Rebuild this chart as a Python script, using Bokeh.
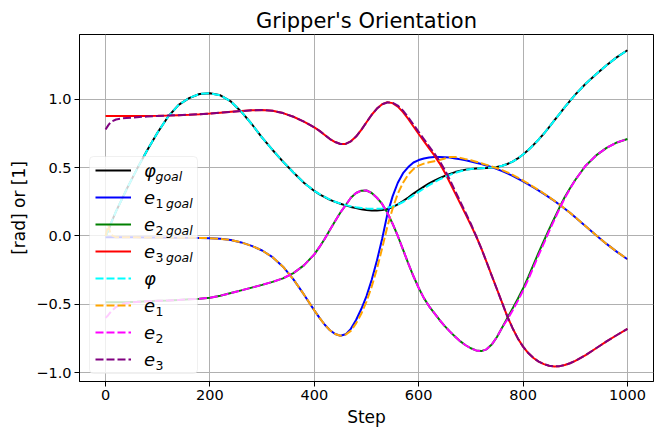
from bokeh.plotting import figure
from bokeh.models import (Range1d, FixedTicker, Legend, LegendItem, Label,
                          BoxAnnotation, CustomJSTickFormatter)
from bokeh.embed import file_html
from bokeh.resources import INLINE

# ---- data: sampled trajectory of the gripper orientation -------------------
steps = [0, 5, 10, 20, 30, 40, 60, 80, 100, 120, 140, 160, 180, 200, 220,
         240, 260, 280, 300, 320, 340, 360, 380,
         400, 410, 420, 430, 440, 450, 460, 470, 480, 490,
         500, 510, 520, 530, 540, 550, 560, 570, 580, 590,
         600, 610, 620, 630, 640, 650, 660, 670, 680, 690,
         700, 710, 720, 730, 740, 750, 760, 770, 780, 790,
         800, 810, 820, 830, 840, 850, 860, 870, 880, 890,
         900, 920, 940, 960, 980, 1000]

phi_goal = [0.0, 0.04, 0.09, 0.18, 0.26, 0.34, 0.49, 0.63, 0.76, 0.875, 0.96,
            1.01, 1.04, 1.045, 1.03, 0.985, 0.91, 0.82, 0.72, 0.63, 0.545,
            0.465, 0.39,
            0.33, 0.305, 0.285, 0.265, 0.25, 0.236, 0.224, 0.213, 0.204, 0.196,
            0.19, 0.186, 0.186, 0.19, 0.198, 0.212, 0.232, 0.256, 0.282, 0.31,
            0.337, 0.362, 0.385, 0.405, 0.423, 0.44, 0.455, 0.468, 0.478, 0.486,
            0.491, 0.494, 0.496, 0.498, 0.501, 0.506, 0.514, 0.527, 0.545, 0.568,
            0.597, 0.63, 0.667, 0.707, 0.75, 0.797, 0.846, 0.895, 0.943, 0.99,
            1.035, 1.115, 1.185, 1.25, 1.31, 1.36]

e1_goal = [-0.01, -0.01, -0.01, -0.01, -0.01, -0.01, -0.01, -0.011, -0.011,
           -0.012, -0.012, -0.013, -0.014, -0.016, -0.021, -0.03, -0.047,
           -0.072, -0.106, -0.155, -0.225, -0.318, -0.428,
           -0.545, -0.6, -0.65, -0.69, -0.718, -0.73, -0.72, -0.68, -0.615, -0.535,
           -0.44, -0.32, -0.18, -0.02, 0.16, 0.29, 0.39, 0.46, 0.505, 0.538,
           0.556, 0.568, 0.575, 0.578, 0.578, 0.577, 0.574, 0.568, 0.562, 0.554,
           0.546, 0.537, 0.527, 0.516, 0.504, 0.49, 0.475, 0.458, 0.44, 0.42,
           0.40, 0.378, 0.355, 0.332, 0.308, 0.283, 0.257, 0.229, 0.2, 0.17,
           0.138, 0.072, 0.006, -0.058, -0.116, -0.17]

e2_goal = [-0.485, -0.485, -0.485, -0.485, -0.485, -0.485, -0.482, -0.478,
           -0.475, -0.472, -0.468, -0.464, -0.46, -0.452, -0.437, -0.418,
           -0.398, -0.378, -0.358, -0.336, -0.31, -0.272, -0.215,
           -0.135, -0.08, -0.02, 0.045, 0.11, 0.172, 0.225, 0.28, 0.315, 0.332,
           0.333, 0.315, 0.28, 0.235, 0.17, 0.09, 0.0, -0.1, -0.2, -0.295,
           -0.38, -0.455, -0.515, -0.565, -0.615, -0.66, -0.7, -0.738, -0.772, -0.8,
           -0.822, -0.838, -0.843, -0.83, -0.795, -0.74, -0.67, -0.6, -0.53, -0.46,
           -0.385, -0.3, -0.21, -0.12, -0.035, 0.05, 0.13, 0.21, 0.285, 0.35,
           0.41, 0.515, 0.59, 0.645, 0.685, 0.71]

e3_goal = [0.878, 0.878, 0.878, 0.878, 0.878, 0.878, 0.878, 0.879, 0.88,
           0.882, 0.885, 0.888, 0.892, 0.897, 0.903, 0.909, 0.915, 0.92,
           0.922, 0.917, 0.9, 0.873, 0.838,
           0.795, 0.77, 0.74, 0.71, 0.688, 0.674, 0.674, 0.693, 0.728, 0.777,
           0.833, 0.888, 0.933, 0.965, 0.98, 0.973, 0.947, 0.907, 0.857, 0.802,
           0.747, 0.695, 0.642, 0.59, 0.532, 0.465, 0.39, 0.312, 0.235, 0.158,
           0.08, 0.0, -0.09, -0.19, -0.29, -0.39, -0.49, -0.59, -0.675, -0.75,
           -0.81, -0.857, -0.893, -0.92, -0.938, -0.95, -0.955, -0.953, -0.945, -0.932,
           -0.915, -0.872, -0.822, -0.772, -0.725, -0.68]

phi = [0.0, 0.04, 0.09, 0.18, 0.26, 0.34, 0.49, 0.63, 0.76, 0.875, 0.96,
       1.01, 1.04, 1.045, 1.03, 0.985, 0.91, 0.82, 0.72, 0.63, 0.545,
       0.465, 0.39,
       0.33, 0.306, 0.286, 0.267, 0.251, 0.237, 0.226, 0.217, 0.21, 0.205,
       0.202, 0.2, 0.2, 0.202, 0.207, 0.216, 0.23, 0.249, 0.272, 0.298,
       0.323, 0.348, 0.372, 0.394, 0.414, 0.432, 0.448, 0.462, 0.474, 0.484,
       0.49, 0.494, 0.496, 0.498, 0.501, 0.506, 0.514, 0.527, 0.545, 0.568,
       0.597, 0.63, 0.667, 0.707, 0.75, 0.797, 0.846, 0.895, 0.943, 0.99,
       1.035, 1.115, 1.185, 1.25, 1.31, 1.36]

e1 = [0.0, 0.08, 0.01, -0.01, -0.01, -0.01, -0.01, -0.011, -0.011,
      -0.012, -0.012, -0.013, -0.014, -0.016, -0.021, -0.03, -0.047,
      -0.072, -0.106, -0.155, -0.225, -0.318, -0.428,
      -0.545, -0.6, -0.65, -0.69, -0.718, -0.73, -0.722, -0.695, -0.64, -0.57,
      -0.48, -0.37, -0.24, -0.09, 0.07, 0.2, 0.31, 0.39, 0.45, 0.49,
      0.515, 0.53, 0.54, 0.548, 0.556, 0.568, 0.578, 0.578, 0.572, 0.563,
      0.554, 0.544, 0.533, 0.521, 0.509, 0.496, 0.482, 0.466, 0.448, 0.428,
      0.406, 0.383, 0.36, 0.336, 0.311, 0.285, 0.258, 0.23, 0.2, 0.17,
      0.138, 0.072, 0.006, -0.058, -0.116, -0.17]

e2 = [-0.60, -0.58, -0.555, -0.52, -0.50, -0.49, -0.483, -0.478,
      -0.475, -0.472, -0.468, -0.464, -0.46, -0.452, -0.437, -0.418,
      -0.398, -0.378, -0.358, -0.336, -0.31, -0.272, -0.215,
      -0.135, -0.08, -0.02, 0.045, 0.11, 0.172, 0.225, 0.28, 0.315, 0.332,
      0.333, 0.315, 0.28, 0.235, 0.17, 0.09, 0.0, -0.1, -0.2, -0.295,
      -0.38, -0.455, -0.515, -0.565, -0.615, -0.66, -0.7, -0.738, -0.772, -0.8,
      -0.822, -0.838, -0.843, -0.83, -0.795, -0.74, -0.67, -0.612, -0.545, -0.475,
      -0.40, -0.318, -0.228, -0.138, -0.052, 0.035, 0.118, 0.2, 0.278, 0.345,
      0.41, 0.515, 0.59, 0.645, 0.685, 0.71]

e3 = [0.78, 0.81, 0.835, 0.853, 0.86, 0.864, 0.87, 0.875, 0.879,
      0.882, 0.885, 0.888, 0.892, 0.897, 0.903, 0.909, 0.915, 0.92,
      0.922, 0.917, 0.9, 0.873, 0.838,
      0.795, 0.77, 0.74, 0.71, 0.688, 0.674, 0.674, 0.693, 0.728, 0.777,
      0.833, 0.888, 0.933, 0.965, 0.978, 0.976, 0.955, 0.918, 0.87, 0.816,
      0.762, 0.71, 0.657, 0.605, 0.55, 0.485, 0.41, 0.33, 0.25, 0.17,
      0.09, 0.0, -0.09, -0.19, -0.29, -0.39, -0.49, -0.59, -0.675, -0.75,
      -0.81, -0.857, -0.893, -0.92, -0.938, -0.95, -0.955, -0.953, -0.945, -0.932,
      -0.915, -0.872, -0.822, -0.772, -0.725, -0.68]

x_ticks = [0, 200, 400, 600, 800, 1000]
y_ticks = [-1.0, -0.5, 0.0, 0.5, 1.0]

FONT = "DejaVu Sans"

p = figure(frame_width=574, frame_height=347,
           min_border_left=79, min_border_right=7,
           min_border_top=34, min_border_bottom=51,
           x_range=Range1d(-50, 1050), y_range=Range1d(-1.0655, 1.4755),
           output_backend="svg", toolbar_location=None,
           title="Gripper's Orientation")

p.title.text_font = FONT
p.title.text_font_size = "21px"
p.title.text_font_style = "normal"
p.title.text_color = "black"
p.title.align = "center"
p.title.standoff = 4

p.background_fill_color = "white"
p.border_fill_color = "white"
p.outline_line_color = "black"
p.outline_line_width = 1

p.xaxis.ticker = FixedTicker(ticks=x_ticks)
p.yaxis.ticker = FixedTicker(ticks=y_ticks)
p.yaxis.formatter = CustomJSTickFormatter(
    code="return tick.toFixed(1).replace('-', '\\u2212');")
p.xaxis.axis_label = "Step"
p.yaxis.axis_label = "[rad] or [1]"

for ax in (p.xaxis, p.yaxis):
    ax.axis_label_text_font = FONT
    ax.axis_label_text_font_size = "17px"
    ax.axis_label_text_font_style = "normal"
    ax.axis_label_text_color = "black"
    ax.major_label_text_font = FONT
    ax.major_label_text_font_size = "14.5px"
    ax.major_label_text_color = "black"
    ax.major_tick_in = 0
    ax.major_tick_out = 5
    ax.major_tick_line_color = "black"
    ax.minor_tick_line_color = None
    ax.axis_line_color = "black"
    ax.major_label_standoff = 3
    ax.axis_label_standoff = 4

p.grid.grid_line_color = "#b0b0b0"
p.grid.grid_line_width = 1

LW = 2
DASH = "8 3"
r_phi_goal = p.line(steps, phi_goal, line_color="black", line_width=LW)
r_e1_goal = p.line(steps, e1_goal, line_color="blue", line_width=LW)
r_e2_goal = p.line(steps, e2_goal, line_color="green", line_width=LW)
r_e3_goal = p.line(steps, e3_goal, line_color="red", line_width=LW)
r_phi = p.line(steps, phi, line_color="cyan", line_width=LW, line_dash=DASH)
r_e1 = p.line(steps, e1, line_color="orange", line_width=LW, line_dash=DASH)
r_e2 = p.line(steps, e2, line_color="magenta", line_width=LW, line_dash=DASH)
r_e3 = p.line(steps, e3, line_color="purple", line_width=LW, line_dash=DASH)

# legend: base symbol in the legend, subscripts as small labels beside it
entries = [("φ", "", "goal", r_phi_goal), ("e", "1", "goal", r_e1_goal),
           ("e", "2", "goal", r_e2_goal), ("e", "3", "goal", r_e3_goal),
           ("φ", "", "", r_phi), ("e", "1", "", r_e1),
           ("e", "2", "", r_e2), ("e", "3", "", r_e3)]

BOX_X, BOX_Y, BOX_W, BOX_H = 10, 8, 108, 217   # legend frame, screen px
PAD, ROW_H, GAP = 3, 22, 5
GLYPH_W, STANDOFF, LABEL_W = 36, 13, 45
LEG_X = BOX_X + 3                               # entries sit a bit inward

# translucent rounded frame behind the legend entries
p.add_layout(BoxAnnotation(left=BOX_X, right=BOX_X + BOX_W,
                           bottom=BOX_Y, top=BOX_Y + BOX_H,
                           left_units="screen", right_units="screen",
                           bottom_units="screen", top_units="screen",
                           fill_color="white", fill_alpha=0.8,
                           line_color="#cccccc", line_width=1,
                           border_radius=4))

legend = Legend(items=[LegendItem(label=s, renderers=[r]) for s, _, _, r in entries],
                location=(LEG_X, BOX_Y), padding=PAD, spacing=GAP, margin=0,
                glyph_width=GLYPH_W, glyph_height=ROW_H, label_height=ROW_H,
                label_width=LABEL_W, label_standoff=STANDOFF,
                label_text_font=FONT, label_text_font_style="italic",
                label_text_font_size="18px", label_text_color="black",
                border_line_color="#cccccc", border_line_alpha=0.0,
                background_fill_alpha=0.0)
p.add_layout(legend)

n = len(entries)
leg_h = 2 * PAD + n * ROW_H + (n - 1) * GAP
text_x = LEG_X + PAD + GLYPH_W + STANDOFF
for i, (sym, idx, sub, _) in enumerate(entries):
    cy = BOX_Y + leg_h - PAD - ROW_H / 2 - i * (ROW_H + GAP)
    base = cy - 6
    sx = text_x + 11
    if idx:
        p.add_layout(Label(x=sx, y=base, x_units="screen", y_units="screen",
                           text=idx, text_font=FONT, text_font_size="12.5px",
                           text_baseline="alphabetic", text_color="black"))
        sx += 10.5
    if sub:
        p.add_layout(Label(x=sx, y=base, x_units="screen", y_units="screen",
                           text=sub, text_font=FONT, text_font_style="italic",
                           text_font_size="12.5px", text_baseline="alphabetic",
                           text_color="black"))

open("out.html", "w").write(file_html(p, INLINE))
